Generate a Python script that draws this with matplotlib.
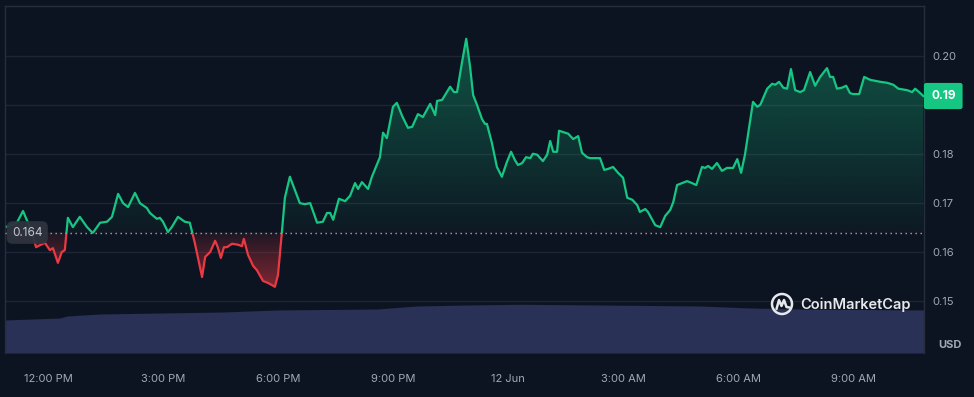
import numpy as np
import matplotlib
matplotlib.use("Agg")
import matplotlib.pyplot as plt
from matplotlib.patches import Rectangle, PathPatch, Circle
from matplotlib.lines import Line2D
import matplotlib.transforms as mtransforms

plt.rcParams['font.family'] = ['Inter', 'DejaVu Sans']

# ---------------- data ----------------
# hours relative to 11 Jun 12:00 PM
hours = [
    -1.08, -0.82, -0.66, -0.53, -0.43, -0.32, -0.09, 0.04, 0.12, 0.25,
    0.35, 0.43, 0.51, 0.64, 0.82, 1.01, 1.16, 1.35, 1.53, 1.66,
    1.82, 1.95, 2.08, 2.26, 2.39, 2.57, 2.65, 2.83, 2.91, 2.99,
    3.12, 3.22, 3.38, 3.56, 3.69, 3.82, 4.01, 4.09, 4.22, 4.35,
    4.42, 4.50, 4.58, 4.66, 4.79, 4.95, 5.05, 5.10, 5.21, 5.34,
    5.44, 5.60, 5.73, 5.91, 5.99, 6.09, 6.17, 6.30, 6.43, 6.56,
    6.69, 6.83, 7.01, 7.16, 7.27, 7.35, 7.43, 7.58, 7.74, 7.87,
    8.00, 8.08, 8.18, 8.34, 8.44, 8.65, 8.73, 8.83, 8.99, 9.09,
    9.23, 9.38, 9.49, 9.64, 9.77, 9.96, 10.09, 10.14, 10.27, 10.48,
    10.58, 10.66, 10.79, 10.90, 11.00, 11.08, 11.18, 11.31, 11.39, 11.44,
    11.57, 11.70, 11.83, 11.96, 12.07, 12.17, 12.25, 12.36, 12.46, 12.57,
    12.64, 12.75, 12.90, 13.01, 13.09, 13.17, 13.27, 13.32, 13.48, 13.56,
    13.69, 13.82, 13.92, 14.05, 14.13, 14.39, 14.50, 14.60, 14.73, 14.86,
    14.99, 15.10, 15.23, 15.36, 15.43, 15.57, 15.64, 15.83, 15.96, 16.09,
    16.22, 16.30, 16.40, 16.53, 16.66, 16.79, 16.90, 17.05, 17.13, 17.21,
    17.31, 17.44, 17.57, 17.70, 17.86, 17.97, 18.07, 18.17, 18.38, 18.49,
    18.57, 18.75, 18.88, 18.96, 19.06, 19.17, 19.27, 19.37, 19.48, 19.61,
    19.71, 19.87, 20.00, 20.13, 20.31, 20.39, 20.47, 20.57, 20.70, 20.81,
    20.91, 20.99, 21.15, 21.28, 21.44, 21.70, 21.88, 22.04, 22.17, 22.40,
    22.53, 22.61, 22.74, 22.82,
]
price = [
    0.1652, 0.1660, 0.1684, 0.1660, 0.1641, 0.1610, 0.1619, 0.1604, 0.1608, 0.1578,
    0.1600, 0.1604, 0.1670, 0.1651, 0.1672, 0.1651, 0.1639, 0.1660, 0.1662, 0.1672,
    0.1719, 0.1700, 0.1692, 0.1721, 0.1700, 0.1690, 0.1680, 0.1668, 0.1670, 0.1662,
    0.1641, 0.1651, 0.1672, 0.1662, 0.1660, 0.1619, 0.1549, 0.1590, 0.1600, 0.1623,
    0.1610, 0.1588, 0.1610, 0.1610, 0.1617, 0.1615, 0.1612, 0.1627, 0.1594, 0.1572,
    0.1563, 0.1541, 0.1537, 0.1529, 0.1553, 0.1639, 0.1711, 0.1754, 0.1727, 0.1700,
    0.1698, 0.1700, 0.1660, 0.1662, 0.1680, 0.1680, 0.1666, 0.1709, 0.1704, 0.1715,
    0.1741, 0.1729, 0.1743, 0.1729, 0.1754, 0.1794, 0.1844, 0.1833, 0.1897, 0.1905,
    0.1878, 0.1854, 0.1856, 0.1882, 0.1876, 0.1903, 0.1880, 0.1909, 0.1911, 0.1938,
    0.1927, 0.1927, 0.1988, 0.2036, 0.1979, 0.1921, 0.1901, 0.1872, 0.1862, 0.1862,
    0.1823, 0.1774, 0.1754, 0.1784, 0.1805, 0.1788, 0.1778, 0.1782, 0.1794, 0.1792,
    0.1801, 0.1799, 0.1786, 0.1799, 0.1827, 0.1805, 0.1805, 0.1848, 0.1844, 0.1842,
    0.1831, 0.1837, 0.1803, 0.1794, 0.1792, 0.1792, 0.1768, 0.1770, 0.1774, 0.1762,
    0.1752, 0.1711, 0.1707, 0.1696, 0.1682, 0.1688, 0.1682, 0.1655, 0.1651, 0.1674,
    0.1686, 0.1702, 0.1737, 0.1741, 0.1745, 0.1741, 0.1737, 0.1774, 0.1772, 0.1776,
    0.1770, 0.1782, 0.1766, 0.1772, 0.1772, 0.1790, 0.1762, 0.1799, 0.1907, 0.1897,
    0.1901, 0.1934, 0.1944, 0.1942, 0.1948, 0.1936, 0.1934, 0.1974, 0.1931, 0.1927,
    0.1931, 0.1968, 0.1940, 0.1958, 0.1976, 0.1958, 0.1958, 0.1934, 0.1936, 0.1940,
    0.1925, 0.1923, 0.1923, 0.1958, 0.1952, 0.1948, 0.1946, 0.1942, 0.1934, 0.1931,
    0.1927, 0.1934, 0.1925, 0.1919,
]
vol_hours = [-1.13, 0.30, 0.49, 1.35, 4.56, 5.96, 8.57, 9.61, 10.92, 12.30,
             14.39, 17.00, 18.31, 19.61, 22.84]
volume = [33, 35, 37, 39, 41, 43, 44, 47, 48, 48.7, 48, 47, 45, 44, 43]

baseline = 0.164
baseline_label = "0.164"
last_label = "0.19"
yticks = [0.15, 0.16, 0.17, 0.18, 0.19, 0.20]
ytick_labels = ["0.15", "0.16", "0.17", "0.18", "0.19", "0.20"]
xtick_hours = [0, 3, 6, 9, 12, 15, 18, 21]
xtick_labels = ["12:00 PM", "3:00 PM", "6:00 PM", "9:00 PM", "12 Jun",
                "3:00 AM", "6:00 AM", "9:00 AM"]

# ---------------- style ----------------
BG = '#0d1421'
GREEN = '#16c784'
RED = '#ea3943'
GRID = '#1e2635'
FRAME = '#262e3d'
TXT = '#a1a7b5'
VOL = '#293156'

W, H = 974, 397
fig = plt.figure(figsize=(W / 100, H / 100), dpi=100)
fig.patch.set_facecolor(BG)
L, R, T, B = 5, 924, 6, 353
pos = [L / W, 1 - B / H, (R - L) / W, (B - T) / H]
XLIM = (-1.13, 22.84)
YLIM = (0.13937, 0.2103)

# volume axes
axv = fig.add_axes(pos, zorder=0)
axv.set_facecolor(BG)
axv.fill_between(vol_hours, volume, 0, color=VOL, lw=0)
axv.set_xlim(*XLIM)
axv.set_ylim(0, 347)
axv.set_xticks([]); axv.set_yticks([])
for s in axv.spines.values():
    s.set_visible(False)

# price axes
ax = fig.add_axes(pos, zorder=1)
ax.patch.set_alpha(0)
ax.set_xlim(*XLIM)
ax.set_ylim(*YLIM)

for yv in yticks:
    ax.axhline(yv, color=GRID, lw=1, zorder=0)

# gradient fills clipped to area between line and baseline
poly = ax.fill_between(hours, price, baseline, color='none', lw=0)
path = poly.get_paths()[0]
clip = PathPatch(path, transform=ax.transData, fc='none', ec='none')
ax.add_patch(clip)

n = 256
g = np.zeros((n, 1, 4))
g[:, 0, :3] = np.array([22, 199, 132]) / 255
g[:, 0, 3] = np.linspace(0.03, 0.42, n)
im_g = ax.imshow(g, extent=[XLIM[0], XLIM[1], baseline, YLIM[1]], origin='lower',
                 aspect='auto', interpolation='bilinear', zorder=1)
im_g.set_clip_path(clip)

r = np.zeros((n, 1, 4))
r[:, 0, :3] = np.array([234, 57, 67]) / 255
r[:, 0, 3] = np.linspace(0.55, 0.08, n)
im_r = ax.imshow(r, extent=[XLIM[0], XLIM[1], 0.152, baseline], origin='lower',
                 aspect='auto', interpolation='bilinear', zorder=1)
im_r.set_clip_path(clip)
ax.set_xlim(*XLIM)
ax.set_ylim(*YLIM)

# line, split by baseline via clipping
lg, = ax.plot(hours, price, color=GREEN, lw=1.6, zorder=3, solid_joinstyle='round')
lg.set_clip_path(Rectangle((XLIM[0], baseline), XLIM[1] - XLIM[0], 1, transform=ax.transData))
lr, = ax.plot(hours, price, color=RED, lw=1.6, zorder=3, solid_joinstyle='round')
lr.set_clip_path(Rectangle((XLIM[0], 0), XLIM[1] - XLIM[0], baseline, transform=ax.transData))

# baseline dotted
ax.axhline(baseline, color='#a3a8b2', lw=1, ls=(0, (1, 2.6)), zorder=4)
ax.text(7 / (R - L), baseline, baseline_label, transform=ax.get_yaxis_transform(),
        ha='left', va='center', fontsize=8.5, color='#c3c7cf', zorder=6,
        bbox=dict(boxstyle='round,pad=0.45,rounding_size=0.5', fc='#2e333e', ec='none', alpha=0.95))

# ticks
ax.yaxis.tick_right()
ax.set_yticks(yticks)
ax.set_yticklabels(ytick_labels)
ax.tick_params(axis='y', length=0, pad=6, labelsize=8, labelcolor=TXT)
ax.set_xticks(xtick_hours)
ax.set_xticklabels(xtick_labels)
ax.tick_params(axis='x', length=0, pad=15, labelsize=8, labelcolor=TXT)

for k, s in ax.spines.items():
    s.set_color(FRAME)
    s.set_linewidth(1)
ax.spines['bottom'].set_visible(False)

# last price tag
trans = mtransforms.blended_transform_factory(ax.transAxes, ax.transData)
ax.text(1 + 7 / (R - L), price[-1], last_label, transform=trans, ha='left', va='center',
        fontsize=8.5, fontweight='bold', color='white', zorder=10, clip_on=False,
        bbox=dict(boxstyle='round,pad=0.6,rounding_size=0.2', fc=GREEN, ec='none'))

# USD
fig.text(950 / W, 1 - 345 / H, 'USD', ha='center', va='center', fontsize=8,
         fontweight='bold', color=TXT)

# CoinMarketCap watermark (pixel coordinates)
pix = mtransforms.IdentityTransform()
cx, cy, rr = 782, H - 304, 10.0
fig.patches.append(Circle((cx, cy), rr, transform=pix, fc='none', ec='#e6e8ec', lw=1.8))
mx = [cx - 5.5, cx - 3.0, cx - 0.5, cx + 2.0, cx + 4.5, cx + 7.5]
my = [cy - 5, cy + 4, cy - 2, cy + 4, cy - 3, cy - 3.5]
fig.lines.append(Line2D(mx, my, transform=pix, color='#e6e8ec', lw=1.8,
                        solid_joinstyle='round', solid_capstyle='round'))
# mask part of circle at lower right for the logo's opening
fig.text(800 / W, 1 - 305 / H, 'CoinMarketCap', ha='left', va='center', fontsize=10.5,
         fontweight='semibold', color='#e6e8ec')

fig.savefig('out.png', dpi=100, facecolor=BG)
